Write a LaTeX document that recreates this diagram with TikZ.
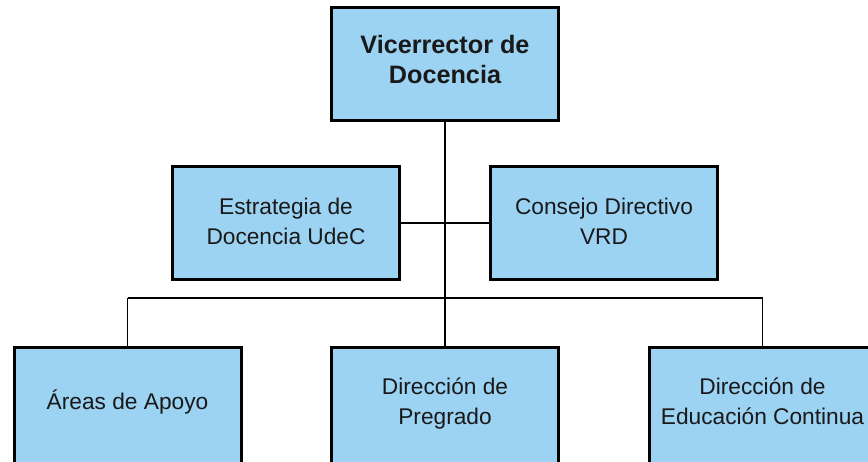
\documentclass[tikz,border=0pt]{standalone}
\usepackage{fontspec}
\setmainfont{Liberation Sans}
\definecolor{boxblue}{RGB}{156,210,242}
\definecolor{txt}{RGB}{25,25,25}
\newcommand{\liftup}[2]{\raisebox{#1}[\height][\depth]{\begin{tabular}{@{}c@{}}#2\end{tabular}}}
\begin{document}
\begin{tikzpicture}[x=1pt,y=-1pt,
  orgbox/.style={draw=black, line width=3pt, fill=boxblue, minimum width=227pt, minimum height=113pt,
    align=center, inner sep=0pt, text=txt, font=\fontsize{22.7}{30}\selectfont},
  topbox/.style={orgbox, font=\fontsize{25.2}{30}\selectfont\bfseries},
  lowbox/.style={orgbox, minimum height=116pt},
  link/.style={draw=black, line width=1.8pt}]
\useasboundingbox (0,0) rectangle (868,461);
\clip (0,0) rectangle (868,461);
\node[topbox] (vd) at (445,63.5) {\liftup{1pt}{Vicerrector de\\Docencia}};
\node[orgbox] (est) at (286,223) {\liftup{0pt}{Estrategia de\\Docencia UdeC}};
\node[orgbox] (con) at (604,223) {\liftup{0pt}{Consejo Directivo\\VRD}};
\node[lowbox] (areas) at (127.5,405) {\liftup{2pt}{Áreas de Apoyo}};
\node[lowbox] (pre) at (445,405) {\liftup{2pt}{Dirección de\\Pregrado}};
\node[lowbox] (edu) at (762.5,405) {\liftup{2pt}{Dirección de\\Educación Continua}};
\coordinate (busL) at (127.5,298);
\coordinate (busR) at (762.5,298);
\draw[link] (vd.south) -- (pre.north);
\draw[link] (est.east) -- (con.west);
\draw[link] (busL) -- (busR);
\draw[link] (busL) -- (areas.north);
\draw[link] (busR) -- (edu.north);
\end{tikzpicture}
\end{document}
